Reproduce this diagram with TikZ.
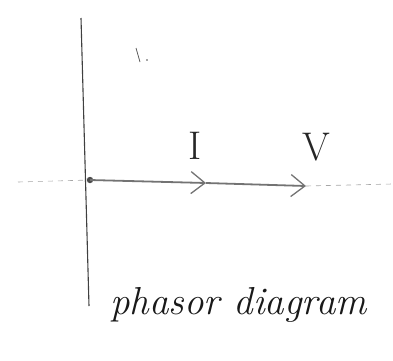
\documentclass[tikz,border=0pt]{standalone}
\usetikzlibrary{arrows.meta}
\begin{document}
\begin{tikzpicture}[x=1pt,y=-1pt,
  axis/.style={draw=black!75,line width=1.1pt},
  faint/.style={draw=black!35,line width=0.6pt,dash pattern=on 5pt off 5pt},
  phasor/.style={draw=black!55,line width=1.8pt,-{Straight Barb[length=14pt,width=22pt,line width=1.3pt]}},
  lbl/.style={font=\fontsize{40}{44}\selectfont,text=black!85,inner sep=0pt},
  hand/.style={font=\itshape\fontsize{39}{43}\selectfont,text=black!90,inner sep=0pt}]
\useasboundingbox (0,0) rectangle (393,360);
% axes
\coordinate (top) at (81,18);
\coordinate (bot) at (89,306);
\coordinate (left) at (18,182);
\coordinate (right) at (392,184);
\coordinate (O) at (90,180);
\coordinate (I) at (206,183);
\coordinate (V) at (306,186);
\draw[axis] (top) -- (bot);
\draw[faint] (left) -- (O);
\draw[faint] (V) -- (right);
\fill[black!70] (O) circle (3.2);
\draw[phasor] (O) -- (I);
\draw[phasor] (I) -- (V);
% labels
\node[lbl] (Il) at (195,146) {I};
\node[lbl] (Vl) at (316,147) {V};
% stray mark
\coordinate (m1) at (136,48);
\coordinate (m2) at (140,62);
\draw[black!70,line width=0.7pt] (m1) -- (m2);
\fill[black!70] (147,60) circle (0.9);
% caption
\node[hand,anchor=base west] (cap) at (110,314) {phasor diagram};
\end{tikzpicture}
\end{document}
